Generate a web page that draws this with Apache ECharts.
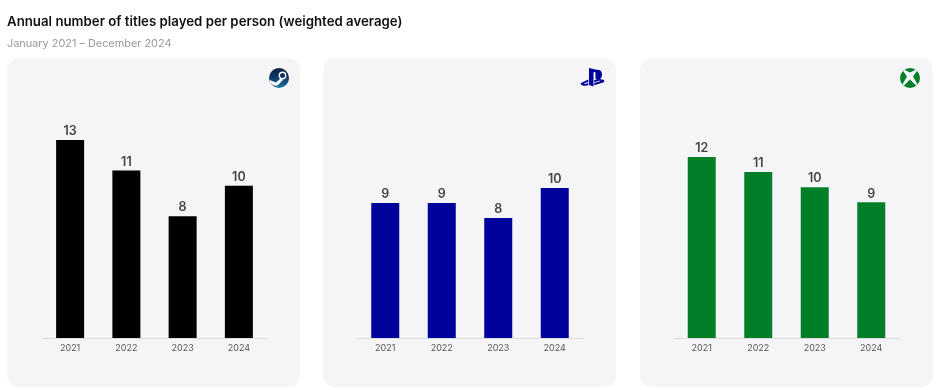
<!DOCTYPE html>
<html><head><meta charset="utf-8">
<style>html,body{margin:0;padding:0;background:#fff}#c{width:936px;height:390px}</style>
<script src="https://cdn.jsdelivr.net/npm/echarts@6/dist/echarts.min.js"></script>
</head><body><div id="c"></div>
<script>
const years = ['2021','2022','2023','2024'];
const steamValues = [13,11,8,10];
const playstationValues = [9,9,8,10];
const xboxValues = [12,11,10,9];
const titleText = 'Annual number of titles played per person (weighted average)';
const subtitleText = 'January 2021 – December 2024';
const FONT = 'Inter, "Open Sans", sans-serif';

const panels = [
  {name:'Steam', values:steamValues, color:'#000000', left:42, width:225, height:198, max:13, px:7},
  {name:'PlayStation', values:playstationValues, color:'#00009a', left:357, width:226, height:150, max:10, px:323},
  {name:'Xbox', values:xboxValues, color:'#007f28', left:673.5, width:226, height:181, max:12, px:640}
];
const G = echarts.graphic;
G.registerShape('steamMark', G.extendPath('M269.5 80 L276 82.5 L281 78 L283 80 L277.5 85.5 C275 86 272 85 270.5 83 Z'));
G.registerShape('psMark', G.extendPath('M589 68 L589 85 L593.5 86.5 L593.5 73 C593.5 71.5 595.5 71.5 595.5 73 L595.5 79 C599.5 80.5 602 78.5 602 74.5 C602 71 600 69.8 596.5 69.8 Z M581 83 C580 84.5 582 85.5 585 85.8 L588.3 85.2 L588.3 83 L585.5 84 C584 84.2 584 83.3 585 83 L588.3 82 L588.3 79.5 Z M594.3 83 L594.3 85.3 L603 82.5 C605.5 81.5 604.5 80 602 79.5 C599.5 79 596.5 79.5 594.3 80.3 L594.3 82.2 L599 80.8 C600.5 80.5 601 81 599.5 81.5 Z'));
G.registerShape('xboxMark', G.extendPath('M904.5 69.7 L910 72.5 L915.5 69.7 L917 71 L913 76.5 L917.5 84.3 L916 85.5 L910 79.5 L904 85.5 L902.5 84.3 L907 76.5 L903 71 Z'));

const chart = echarts.init(document.getElementById('c'), null, {renderer:'canvas'});
const graphics = panels.map(p => ({
  type:'rect', z:-1, silent:true,
  shape:{x:p.px, y:58.5, width:293, height:328.5, r:12},
  style:{fill:'#f5f5f8'}
}));
graphics.push({type:'circle', z:5, shape:{cx:279, cy:78, r:10},
  style:{fill:new G.LinearGradient(0,0,0,1,[{offset:0,color:'#0f1f3f'},{offset:.55,color:'#0f3f6f'},{offset:1,color:'#1878a8'}])}});
graphics.push({type:'circle', z:6, shape:{cx:282.5, cy:75.5, r:3.2}, style:{fill:'none', stroke:'#fff', lineWidth:1.4}});
graphics.push({type:'steamMark', z:6, style:{fill:'#fff'}});
graphics.push({type:'psMark', z:5, style:{fill:'#00009a'}});
graphics.push({type:'circle', z:5, shape:{cx:910, cy:78, r:10}, style:{fill:'#007f28'}});
graphics.push({type:'xboxMark', z:6, style:{fill:'#f5f5f8'}});

chart.setOption({
  animation:false,
  backgroundColor:'#fff',
  title:[
    {text:titleText, left:2, top:11, textStyle:{fontFamily:FONT, fontSize:13.25, fontWeight:600, color:'#111'}},
    {text:subtitleText, left:2, top:33, textStyle:{fontFamily:FONT, fontSize:10.9, fontWeight:400, color:'#999'}}
  ],
  graphic:graphics,
  grid:panels.map(p => ({left:p.left, width:p.width, top:338-p.height, height:p.height})),
  xAxis:panels.map((p,i) => ({
    type:'category', gridIndex:i, data:years,
    axisLine:{lineStyle:{color:'#dcdcdf', width:1}},
    axisTick:{show:false},
    axisLabel:{margin:6, fontFamily:FONT, fontSize:9, color:'#555'}
  })),
  yAxis:panels.map((p,i) => ({type:'value', gridIndex:i, min:0, max:p.max, show:false, splitLine:{show:false}})),
  series:panels.map((p,i) => ({
    name:p.name, type:'bar', xAxisIndex:i, yAxisIndex:i, data:p.values, barWidth:28,
    itemStyle:{color:p.color},
    label:{show:true, position:'top', distance:2, fontFamily:FONT, fontSize:12.5, fontWeight:600, color:'#444'}
  }))
});
</script></body></html>
